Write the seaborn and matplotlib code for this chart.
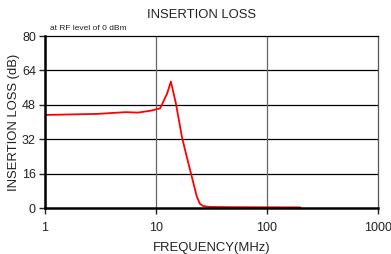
import matplotlib
matplotlib.use('Agg')
import matplotlib.pyplot as plt
import seaborn as sns
import pandas as pd

# data
freq_mhz = [1, 3, 5.3, 6.9, 9, 10.9, 12.6, 13.6, 14.3, 15.1, 17.1, 18.9, 21.0, 23.3, 24.9, 26.7, 30.6, 50, 100, 200]
loss_db = [43.3, 43.8, 44.6, 44.4, 45.3, 46.4, 53.3, 58.8, 54, 48.7, 33.2, 23.9, 14.6, 5.3, 1.9, 0.9, 0.5, 0.4, 0.35, 0.3]

df = pd.DataFrame({'freq': freq_mhz, 'loss': loss_db})

sns.set_style('white')
plt.rcParams['font.family'] = ['Liberation Sans', 'DejaVu Sans']
plt.rcParams['text.color'] = 'black'
plt.rcParams['axes.labelcolor'] = 'black'

fig = plt.figure(figsize=(3.91, 2.54), dpi=100)
ax = fig.add_axes([0.115, 0.181, 0.852, 0.677])

sns.lineplot(data=df, x='freq', y='loss', ax=ax, color='#ff0000', linewidth=1.3)

ax.set_xscale('log')
ax.set_xlim(1, 1000)
ax.set_ylim(0, 80)
ax.set_yticks(range(0, 81, 16))
ax.set_xticks([1, 10, 100, 1000])
ax.set_xticklabels(['1', '10', '100', '1000'])
ax.minorticks_off()

for y in [16, 32, 48, 64]:
    ax.axhline(y, color='black', linewidth=0.9, zorder=0)
for x in [10, 100]:
    ax.axvline(x, color='#666666', linewidth=0.9, zorder=0)

ax.spines['left'].set_linewidth(1.8)
ax.spines['bottom'].set_linewidth(1.8)
ax.spines['left'].set_color('black')
ax.spines['bottom'].set_color('black')
ax.spines['top'].set_color('black')
ax.spines['top'].set_linewidth(0.9)
ax.spines['right'].set_color('#555555')
ax.spines['right'].set_linewidth(0.9)

ax.tick_params(axis='both', direction='out', length=4, width=1, labelsize=9, colors='#222222', left=True, bottom=True)
ax.tick_params(axis='x', pad=6)
ax.tick_params(axis='y', pad=2.5)

ax.set_xlabel('FREQUENCY(MHz)', fontsize=9.4, labelpad=6, color='#222222')
ax.set_ylabel('INSERTION LOSS (dB)', fontsize=9.4, labelpad=1.5, color='#222222')
fig.text(0.515, 0.939, 'INSERTION LOSS', fontsize=9.4, ha='center', va='center', color='#222222')
fig.text(0.128, 0.888, 'at RF level of 0 dBm', fontsize=6, ha='left', va='center', color='#222222')

fig.savefig('out.png', dpi=100)
